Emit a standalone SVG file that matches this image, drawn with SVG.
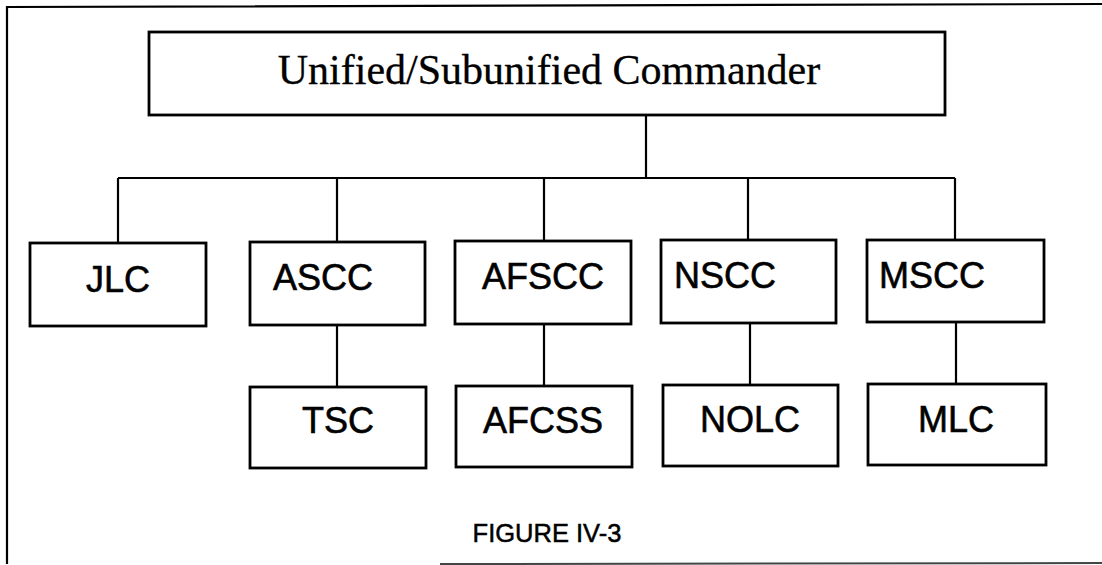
<svg xmlns="http://www.w3.org/2000/svg" width="1102" height="565" viewBox="0 0 1102 565">
<style>
.box{fill:#fff;stroke:#000;stroke-width:2.8}
.ln{stroke:#000;stroke-width:2.2;fill:none}
.lbl{font-family:"Liberation Sans",Arial,sans-serif;font-size:36px;fill:#000;stroke:#000;stroke-width:0.6}
.top{font-family:"Liberation Serif","Times New Roman",serif;font-size:42px;fill:#000;stroke:#000;stroke-width:0.3}
</style>
<rect width="1102" height="565" fill="#fff"/>
<g id="frame">
<path d="M7,564 L7,7 L1102,4" class="ln" stroke-width="3"/>
<path d="M440,564 L1102,563" stroke="#444" stroke-width="2" fill="none"/>
</g>
<g id="connectors">
<path class="ln" d="M646,115 V178 M118,178 H955 M118,178 V243 M337,178 V242 M544,178 V241 M748,178 V240 M955,178 V240"/>
<path class="ln" d="M337,325 V387 M544,324 V386 M750,323 V385 M956,322 V384"/>
</g>
<g id="n-top"><rect class="box" x="149" y="32" width="796" height="83"/><text class="top" x="549" y="84" text-anchor="middle">Unified/Subunified Commander</text></g>
<g id="n-jlc"><rect class="box" x="30" y="243" width="176" height="83"/><text class="lbl" x="118" y="292" text-anchor="middle">JLC</text></g>
<g id="n-ascc"><rect class="box" x="250" y="242" width="175" height="83"/><text class="lbl" x="273" y="290">ASCC</text></g>
<g id="n-afscc"><rect class="box" x="455" y="241" width="176" height="83"/><text class="lbl" x="482" y="289">AFSCC</text></g>
<g id="n-nscc"><rect class="box" x="661" y="240" width="175" height="83"/><text class="lbl" x="674" y="288">NSCC</text></g>
<g id="n-mscc"><rect class="box" x="867" y="240" width="177" height="82"/><text class="lbl" x="879" y="288">MSCC</text></g>
<g id="n-tsc"><rect class="box" x="250" y="387" width="176" height="81"/><text class="lbl" x="338" y="433" text-anchor="middle">TSC</text></g>
<g id="n-afcss"><rect class="box" x="456" y="386" width="176" height="81"/><text class="lbl" x="543" y="433" text-anchor="middle">AFCSS</text></g>
<g id="n-nolc"><rect class="box" x="663" y="385" width="175" height="81"/><text class="lbl" x="750" y="432" text-anchor="middle">NOLC</text></g>
<g id="n-mlc"><rect class="box" x="868" y="384" width="178" height="81"/><text class="lbl" x="956" y="432" text-anchor="middle">MLC</text></g>
<text x="547" y="542" text-anchor="middle" font-family="'Liberation Sans',Arial,sans-serif" font-size="25.5" fill="#000" stroke="#000" stroke-width="0.5">FIGURE IV-3</text>
</svg>
